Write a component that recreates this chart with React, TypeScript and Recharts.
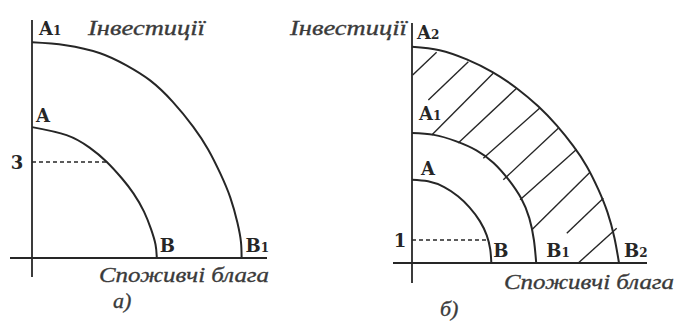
import React from 'react';
import { LineChart, Line, XAxis, YAxis, ReferenceLine, ReferenceDot } from 'recharts';

// а) криві виробничих можливостей (споживчі блага, інвестиції)
const leftAB = [[0, 4.09], [1.08, 3.84], [1.8, 3.45], [2.33, 3.01], [2.8, 2.5], [3.17, 2.02], [3.5, 1.45], [3.72, 0.9], [3.86, 0.42], [3.9, 0]];
const leftA1B1 = [[0, 6.74], [1.05, 6.65], [2.13, 6.4], [2.95, 6.02], [3.69, 5.55], [4.4, 4.88], [5.04, 4.1], [5.5, 3.4], [5.88, 2.65], [6.2, 1.88], [6.42, 1.1], [6.53, 0.5], [6.55, 0]];
const leftMark = [3, 2.33]; // рівень інвестицій, точка на кривій AB

// б)
const rightAB = [[0, 3.62], [0.7, 3.55], [1.4, 3.3], [2.0, 2.9], [2.5, 2.42], [2.95, 1.82], [3.25, 1.2], [3.4, 0.6], [3.45, 0]];
const rightA1B1 = [[0, 5.65], [0.95, 5.57], [1.9, 5.3], [2.8, 4.9], [3.55, 4.35], [4.2, 3.62], [4.75, 2.8], [5.1, 1.95], [5.3, 1.0], [5.4, 0]];
const rightA2B2 = [[0, 9.4], [1.2, 9.25], [2.38, 8.85], [3.5, 8.3], [4.55, 7.6], [5.5, 6.8], [6.29, 5.98], [7.0, 5.1], [7.6, 4.2], [8.1, 3.2], [8.5, 2.2], [8.8, 1.1], [9.0, 0]];
const rightMark = [1, 3.3];

// штрихування між A1B1 та A2B2
const hatch = [
  [0.03, 8.17, 1.07, 9.16],
  [0.71, 7.09, 2.45, 8.75],
  [0.86, 5.57, 3.53, 8.25],
  [2.01, 5.22, 4.55, 7.6],
  [3.1, 4.55, 5.57, 6.75],
  [3.97, 3.62, 6.36, 5.86],
  [4.7, 2.75, 7.16, 4.95],
  [5.2, 1.43, 7.74, 3.95],
  [6.73, 1.29, 8.32, 2.81],
  [7.23, 0, 8.9, 1.51],
];

const yTitle = 'Інвестиції';
const xTitle = 'Споживчі блага';
const captions = ['а)', 'б)'];

const INK = '#262626';
const BOLD = { fontFamily: '"DejaVu Serif", serif', fontWeight: 700, fontSize: 18, fill: INK };
const ITALIC = {
  fontFamily: '"Liberation Serif", serif',
  fontStyle: 'italic',
  fontSize: 22,
  fill: '#3a3a3a',
  stroke: '#3a3a3a',
  strokeWidth: 0.35,
};

const toPts = (arr: number[][]) => arr.map(([x, y]) => ({ x, y }));

const tag = (main: string, sub: string, dx: number, dy: number, anchor = 'start') => ({
  content: ({ viewBox }: any) => (
    <text x={viewBox.x + dx} y={viewBox.y + dy} textAnchor={anchor} style={BOLD}>
      {main}
      {sub ? <tspan fontSize={12}>{sub}</tspan> : null}
    </text>
  ),
});

function Panel({ width, margin, xDomain, yDomain, curves, tags, mark, markTxt, markDx, yT, xT, cap, hatchLines }: any) {
  return (
    <LineChart width={width} height={322} margin={margin}>
      <XAxis type="number" dataKey="x" domain={xDomain} hide allowDataOverflow />
      <YAxis type="number" domain={yDomain} hide allowDataOverflow />
      {hatchLines.map((h: number[], i: number) => (
        <ReferenceLine
          key={'h' + i}
          segment={[{ x: h[0], y: h[1] }, { x: h[2], y: h[3] }]}
          stroke={INK}
          strokeWidth={1.4}
        />
      ))}
      <ReferenceLine
        x={0}
        stroke={INK}
        strokeWidth={1.8}
        label={{
          content: ({ viewBox }: any) => (
            <text x={viewBox.x + yT.dx} y={viewBox.y + yT.dy} textAnchor={yT.anchor} textLength={117} lengthAdjust="spacingAndGlyphs" style={ITALIC}>
              {yTitle}
            </text>
          ),
        }}
      />
      <ReferenceLine
        y={0}
        stroke={INK}
        strokeWidth={1.8}
        label={{
          content: ({ viewBox }: any) => (
            <g>
              <text x={viewBox.x + viewBox.width + xT.dx} y={viewBox.y + xT.dy} textAnchor="end" textLength={170} lengthAdjust="spacingAndGlyphs" style={ITALIC}>
                {xTitle}
              </text>
              <text x={viewBox.x + cap.dx} y={viewBox.y + cap.dy} style={{ ...ITALIC, fontSize: 22 }}>
                {cap.text}
              </text>
            </g>
          ),
        }}
      />
      <ReferenceLine
        segment={[{ x: 0, y: mark[0] }, { x: mark[1], y: mark[0] }]}
        stroke={INK}
        strokeWidth={1.3}
        strokeDasharray="4 3"
      />
      <ReferenceDot x={0} y={mark[0]} r={0} stroke="none" fill="none" label={tag(markTxt, '', markDx, 7, 'middle')} />
      {curves.map((c: number[][], i: number) => (
        <Line
          key={'c' + i}
          data={toPts(c)}
          dataKey="y"
          type="natural"
          dot={false}
          stroke={INK}
          strokeWidth={2}
          isAnimationActive={false}
        />
      ))}
      {tags.map((t: any, i: number) => (
        <ReferenceDot key={'t' + i} x={t.at[0]} y={t.at[1]} r={0} stroke="none" fill="none" label={tag(t.main, t.sub, t.dx, t.dy)} />
      ))}
    </LineChart>
  );
}

export default function App() {
  const first = (c: number[][]) => c[0];
  const last = (c: number[][]) => c[c.length - 1];

  const leftTags = [
    { main: 'A', sub: '1', at: first(leftA1B1), dx: 7, dy: -7 },
    { main: 'A', sub: '', at: first(leftAB), dx: 4, dy: -5 },
    { main: 'B', sub: '', at: last(leftAB), dx: 3, dy: -6 },
    { main: 'B', sub: '1', at: last(leftA1B1), dx: 4, dy: -6 },
  ];
  const rightTags = [
    { main: 'A', sub: '2', at: first(rightA2B2), dx: 5, dy: -8 },
    { main: 'A', sub: '1', at: first(rightA1B1), dx: 7, dy: -13 },
    { main: 'A', sub: '', at: first(rightAB), dx: 9, dy: -5 },
    { main: 'B', sub: '', at: last(rightAB), dx: 2, dy: -6 },
    { main: 'B', sub: '1', at: last(rightA1B1), dx: 10, dy: -6 },
    { main: 'B', sub: '2', at: last(rightA2B2), dx: 5, dy: -6 },
  ];

  return (
    <div style={{ position: 'fixed', left: 0, top: 0, width: 680, height: 322, background: '#fff' }}>
      <div style={{ position: 'absolute', left: 0, top: 0 }}>
        <Panel
          width={280}
          margin={{ top: 20, right: 13, bottom: 45, left: 10 }}
          xDomain={[-0.6875, 7.34375]}
          yDomain={[-0.59375, 7.4375]}
          curves={[leftAB, leftA1B1]}
          tags={leftTags}
          mark={leftMark}
          markTxt="3"
          markDx={-15}
          yT={{ dx: 56, dy: 15, anchor: 'start' }}
          xT={{ dx: 2, dy: 24 }}
          cap={{ text: captions[0], dx: 103, dy: 50 }}
          hatchLines={[]}
        />
      </div>
      <div style={{ position: 'absolute', left: 280, top: 0 }}>
        <Panel
          width={400}
          margin={{ top: 23, right: 33, bottom: 39, left: 113 }}
          xDomain={[-0.826, 10.217]}
          yDomain={[-0.87, 10.435]}
          curves={[rightAB, rightA1B1, rightA2B2]}
          tags={rightTags}
          mark={rightMark}
          markTxt="1"
          markDx={-12}
          yT={{ dx: -5, dy: 12, anchor: 'end' }}
          xT={{ dx: 27, dy: 26 }}
          cap={{ text: captions[1], dx: 47, dy: 53 }}
          hatchLines={hatch}
        />
      </div>
    </div>
  );
}
